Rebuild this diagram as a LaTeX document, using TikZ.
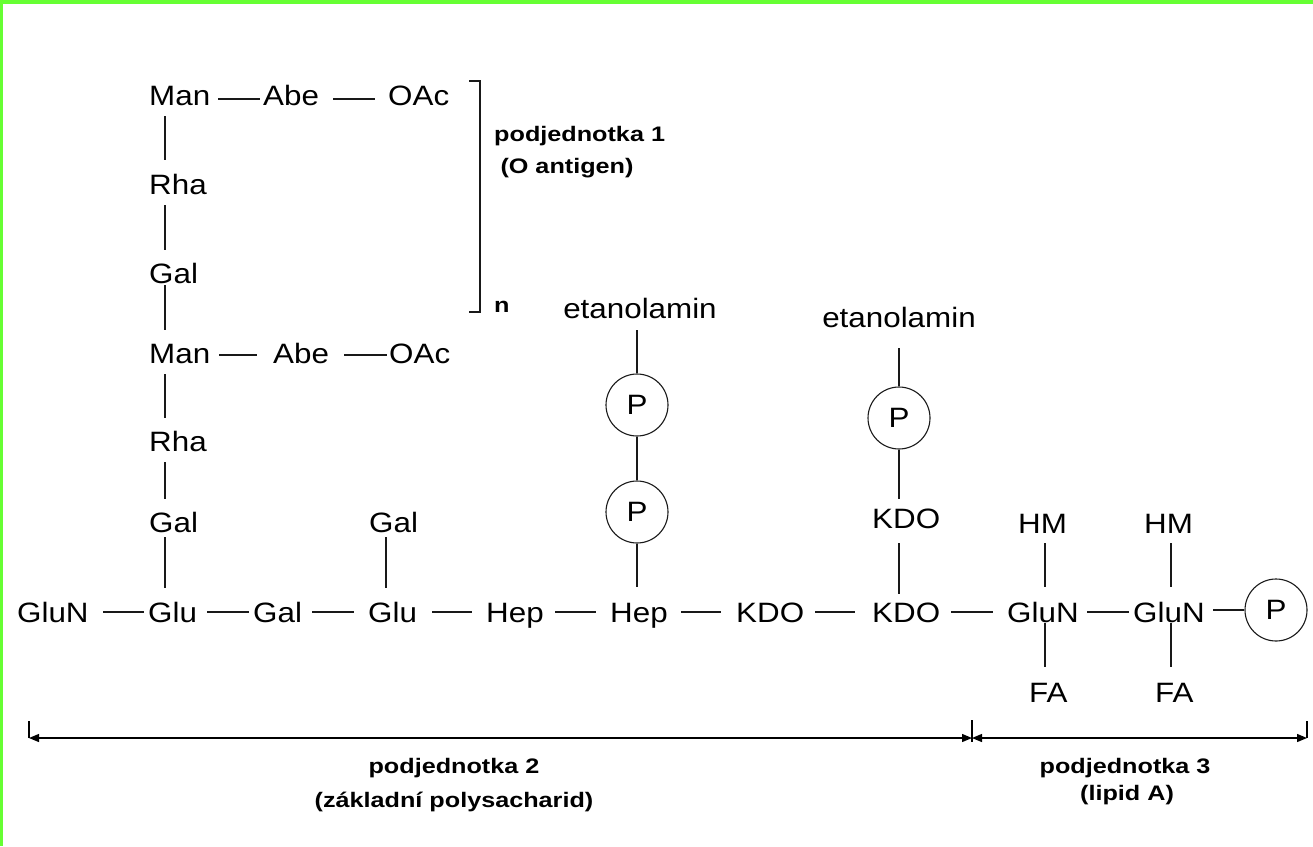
\documentclass[tikz,border=0pt]{standalone}
\usepackage{fontspec}
\setmainfont{Liberation Sans}[FakeStretch=1.12]
\newfontfamily\boldlab{Liberation Sans}[FakeStretch=1.2]
\usetikzlibrary{calc,arrows.meta}
\definecolor{bordergreen}{RGB}{102,255,51}
\definecolor{ink}{RGB}{25,25,25}
\begin{document}
\begin{tikzpicture}[x=1pt,y=-1pt,
  txt/.style={inner sep=0pt, anchor=base west, font=\fontsize{28}{34}\selectfont, text=black},
  lbl/.style={inner sep=0pt, anchor=base, font=\boldlab\bfseries\fontsize{21}{25}\selectfont, text=black},
  pcirc/.style={circle, draw=ink, line width=1.1pt, minimum size=62pt, inner sep=0pt, font=\fontsize{28}{34}\selectfont},
  bond/.style={draw=ink, line width=1.1pt},
  dimline/.style={draw=black, line width=1.3pt, {Triangle[length=10pt,width=8pt]}-{Triangle[length=10pt,width=8pt]}},
  tick/.style={draw=black, line width=1.1pt},
]
\useasboundingbox (0,0) rectangle (1313,846);
\fill[bordergreen] (0,0) rectangle (1313,4);
\fill[bordergreen] (0,0) rectangle (3,846);

% O antigen column
\node[txt] (man1) at (149,105) {Man};
\node[txt] (abe1) at (263,105) {Abe};
\node[txt] (oac1) at (388,105) {OAc};
\node[txt] (rha1) at (149,194) {Rha};
\node[txt] (gal1) at (149,283) {Gal};
\node[txt] (man2) at (149,363) {Man};
\node[txt] (abe2) at (273,363) {Abe};
\node[txt] (oac2) at (389,363) {OAc};
\node[txt] (rha2) at (149,451) {Rha};
\node[txt] (gal2) at (149,532) {Gal};

% main row
\node[txt] (glun0) at (17,622) {GluN};
\node[txt] (glu1) at (148,622) {Glu};
\node[txt] (gal3) at (253,622) {Gal};
\node[txt] (glu2) at (368,622) {Glu};
\node[txt] (gal4) at (369,532) {Gal};
\node[txt] (hep1) at (486,622) {Hep};
\node[txt] (hep2) at (610,622) {Hep};
\node[txt] (kdo1) at (736,622) {KDO};
\node[txt] (kdo2) at (872,622) {KDO};
\node[txt] (glun1) at (1007,622) {GluN};
\node[txt] (glun2) at (1133,622) {GluN};
\node[pcirc] (p3) at (1276,610) {P};
\node[txt] (hm1) at (1018,533) {HM};
\node[txt] (hm2) at (1144,533) {HM};
\node[txt] (fa1) at (1029,702) {FA};
\node[txt] (fa2) at (1155,702) {FA};

% side chains
\node[txt,anchor=base] (etan1) at (640,318) {etanolamin};
\node[txt,anchor=base] (etan2) at (899,327) {etanolamin};
\node[txt] (kdo3) at (872,528) {KDO};
\node[pcirc] (p1) at (637,405) {P};
\node[pcirc] (p2) at (637,512) {P};
\node[pcirc] (p4) at (899,418) {P};

% labels
\node[lbl,anchor=base west] (pod1) at (494,141) {podjednotka 1};
\node[lbl] (oant) at (567,173) {(O antigen)};
\node[lbl,anchor=base west] (nn) at (494,312) {n};
\node[lbl] (pod2) at (454,773) {podjednotka 2};
\node[lbl] (zakl) at (454,807) {(základní polysacharid)};
\node[lbl] (pod3) at (1125,773) {podjednotka 3};
\node[lbl] (lipa) at (1127,800) {(lipid A)};

% horizontal bonds
\draw[bond] ($(man1.base west)+(69,-6)$) -- ($(abe1.base west)+(-3,-6)$);
\draw[bond] ($(abe1.base west)+(70,-6)$) -- ($(oac1.base west)+(-13,-6)$);
\draw[bond] ($(man2.base west)+(70,-8)$) -- ($(abe2.base west)+(-16,-8)$);
\draw[bond] ($(abe2.base west)+(71,-8)$) -- ($(oac2.base west)+(-2,-8)$);
\draw[bond] ($(glun0.base west)+(86,-10)$) -- ($(glu1.base west)+(-4,-10)$);
\draw[bond] ($(glu1.base west)+(59,-10)$) -- ($(gal3.base west)+(-4,-10)$);
\draw[bond] ($(gal3.base west)+(59,-10)$) -- ($(glu2.base west)+(-14,-10)$);
\draw[bond] ($(glu2.base west)+(64,-10)$) -- ($(hep1.base west)+(-14,-10)$);
\draw[bond] ($(hep1.base west)+(69,-10)$) -- ($(hep2.base west)+(-14,-10)$);
\draw[bond] ($(hep2.base west)+(71,-10)$) -- ($(kdo1.base west)+(-15,-10)$);
\draw[bond] ($(kdo1.base west)+(79,-10)$) -- ($(kdo2.base west)+(-17,-10)$);
\draw[bond] ($(kdo2.base west)+(79,-10)$) -- ($(glun1.base west)+(-14,-10)$);
\draw[bond] ($(glun1.base west)+(80,-10)$) -- ($(glun2.base west)+(-4,-10)$);
\draw[bond] ($(glun2.base west)+(80,-12)$) -- (p3.west);

% vertical bonds
\draw[bond] ($(man1.base west)+(16,11)$) -- ($(rha1.base west)+(16,-34)$);
\draw[bond] ($(rha1.base west)+(16,11)$) -- ($(gal1.base west)+(16,-33)$);
\draw[bond] ($(gal1.base west)+(16,2)$) -- ($(man2.base west)+(16,-33)$);
\draw[bond] ($(man2.base west)+(16,11)$) -- ($(rha2.base west)+(16,-33)$);
\draw[bond] ($(rha2.base west)+(16,11)$) -- ($(gal2.base west)+(16,-33)$);
\draw[bond] ($(gal2.base west)+(16,5)$) -- ($(glu1.base west)+(17,-34)$);
\draw[bond] ($(gal4.base west)+(17,5)$) -- ($(glu2.base west)+(18,-34)$);
\draw[bond] ($(etan1.base)+(-3,12)$) -- (p1.north);
\draw[bond] (p1.south) -- (p2.north);
\draw[bond] (p2.south) -- ($(hep2.base west)+(27,-35)$);
\draw[bond] ($(etan2.base)+(0,21)$) -- (p4.north);
\draw[bond] (p4.south) -- ($(kdo3.base west)+(27,-29)$);
\draw[bond] ($(kdo3.base west)+(27,15)$) -- ($(kdo2.base west)+(27,-28)$);
\draw[bond] ($(hm1.base west)+(27,10)$) -- ($(glun1.base west)+(38,-35)$);
\draw[bond] ($(glun1.base west)+(38,1)$) -- ($(fa1.base west)+(16,-35)$);
\draw[bond] ($(hm2.base west)+(27,10)$) -- ($(glun2.base west)+(38,-35)$);
\draw[bond] ($(glun2.base west)+(38,1)$) -- ($(fa2.base west)+(16,-35)$);

% bracket
\draw[bond] (469,81) -- (480,81) -- (480,312) -- (469,312);

% dimension lines
\coordinate (dl) at (29,738);
\coordinate (dm) at (972,738);
\coordinate (dr) at (1307,738);
\draw[dimline] (dl) -- (dm);
\draw[dimline] (dm) -- (dr);
\draw[tick] (dl) -- ++(0,-17);
\draw[tick] ($(dm)+(0,-18)$) -- ($(dm)+(0,4)$);
\draw[tick] (dr) -- ++(0,-17);
\end{tikzpicture}
\end{document}
